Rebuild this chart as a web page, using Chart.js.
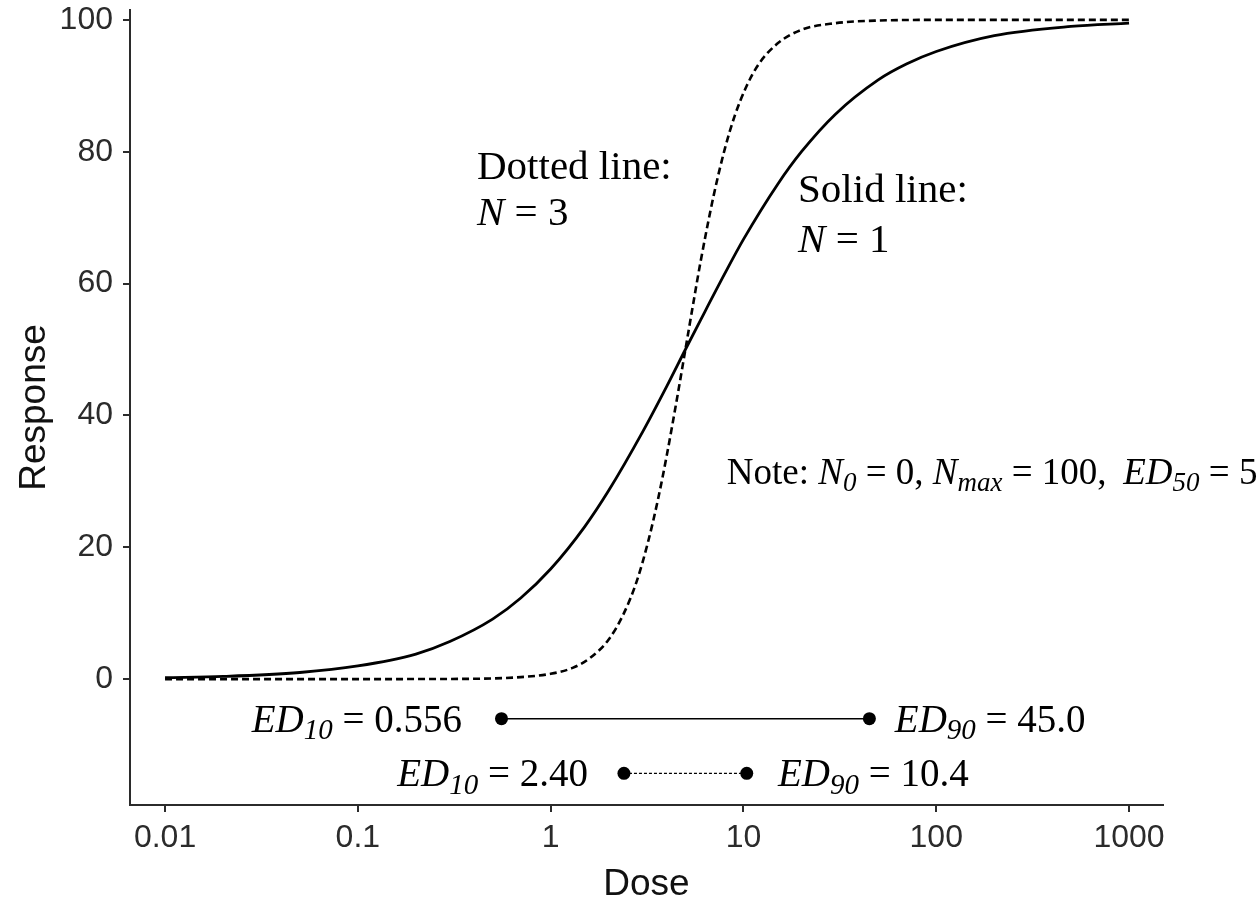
<!DOCTYPE html>
<html>
<head>
<meta charset="utf-8">
<title>Dose response</title>
<script src="https://cdn.jsdelivr.net/npm/chart.js@4.4.0/dist/chart.umd.min.js"></script>
<style>
  html, body { margin: 0; padding: 0; background: #fff; }
  #wrap { width: 1259px; height: 903px; }
</style>
</head>
<body>
<div id="wrap"><canvas id="doseChart" width="1259" height="903"></canvas></div>
<script>
// --- Data ---
const doseTicks = [0.01, 0.1, 1, 10, 100, 1000];
const doseTickLabels = ["0.01", "0.1", "1", "10", "100", "1000"];
const responseTicks = [0, 20, 40, 60, 80, 100];

// N = 1 curve (solid)
const solidDose = [0.01, 0.02, 0.05, 0.1, 0.2, 0.3, 0.5, 0.7, 1, 1.5, 2, 3, 4, 5, 6, 8, 10, 15, 20, 30, 50, 70, 100, 200, 500, 1000];
const solidResp = [0.2, 0.4, 1.0, 2.0, 3.8, 5.7, 9.1, 12.3, 16.7, 23.1, 28.6, 37.5, 44.4, 50.0, 54.5, 61.5, 66.7, 75.0, 80.0, 85.7, 90.9, 93.3, 95.2, 97.6, 99.0, 99.5];

// N = 3 curve (dashed)
const dashDose = [0.01, 0.1, 0.3, 0.5, 0.7, 1, 1.3, 1.6, 2, 2.4, 2.8, 3.2, 3.6, 4, 4.5, 5, 5.5, 6, 7, 8, 9, 10.4, 12, 15, 20, 30, 50, 100, 1000];
const dashResp = [0, 0, 0.02, 0.1, 0.3, 0.8, 1.7, 3.2, 6.0, 10.0, 14.9, 20.8, 27.2, 33.9, 42.2, 50.0, 57.1, 63.4, 73.3, 80.4, 85.4, 90.0, 93.3, 96.4, 98.5, 99.5, 99.9, 100, 100];

// ED10 / ED90 for each curve, drawn as a row under the curves
const edSolid = [0.556, 45.0];
const edDotted = [2.40, 10.4];
const edRowY = [-6, -14.3];
const edSolidLabels = ["0.556", "45.0"];
const edDottedLabels = ["2.40", "10.4"];

const SANS = '"Liberation Sans", Arial, sans-serif';
const SERIF = '"Liberation Serif", "Times New Roman", serif';
const AXIS_COLOR = "#2b2b2b";

const toPoints = (xs, ys) => xs.map((x, i) => ({ x: x, y: ys[i] }));

// --- Rich text (italic / subscript runs) ---
function drawRuns(ctx, runs, x, y, align, size) {
  const subSize = Math.round(size * 0.74);
  const parts = runs.map(([text, italic, sub]) => {
    const font = (italic ? "italic " : "") + (sub ? subSize : size) + "px " + SERIF;
    ctx.font = font;
    return { text, font, w: ctx.measureText(text).width, dy: sub ? size * 0.19 : 0 };
  });
  const total = parts.reduce((s, p) => s + p.w, 0);
  let cx = align === "right" ? x - total : x;
  ctx.textAlign = "left";
  ctx.textBaseline = "alphabetic";
  parts.forEach(p => {
    ctx.font = p.font;
    ctx.fillText(p.text, cx, y + p.dy);
    cx += p.w;
  });
}

const annotations = {
  id: "annotations",
  afterDatasetsDraw(chart) {
    const { ctx } = chart;
    const xs = chart.scales.x, ys = chart.scales.y;
    const px = v => xs.getPixelForValue(v);
    const py = v => ys.getPixelForValue(v);
    ctx.save();
    ctx.fillStyle = "#000";

    drawRuns(ctx, [["Dotted line:", false, false]], px(0.415), py(75.9), "left", 41);
    drawRuns(ctx, [["N", true, false], [" = 3", false, false]], px(0.415), py(68.9), "left", 41);
    drawRuns(ctx, [["Solid line:", false, false]], px(19.2), py(72.4), "left", 41);
    drawRuns(ctx, [["N", true, false], [" = 1", false, false]], px(19.2), py(64.8), "left", 41);

    drawRuns(ctx, [
      ["Note: ", false, false], ["N", true, false], ["0", true, true], [" = 0, ", false, false],
      ["N", true, false], ["max", true, true], [" = 100,\u2009 ", false, false],
      ["ED", true, false], ["50", true, true], [" = 5", false, false]
    ], px(8.2), py(29.6), "left", 37);

    // ED labels sit beside the row markers
    const rowBase = r => py(edRowY[r]) + 13;
    drawRuns(ctx, [["ED", true, false], ["10", true, true], [" = " + edSolidLabels[0], false, false]], px(0.347), rowBase(0), "right", 39);
    drawRuns(ctx, [["ED", true, false], ["90", true, true], [" = " + edSolidLabels[1], false, false]], px(61), rowBase(0), "left", 39);
    drawRuns(ctx, [["ED", true, false], ["10", true, true], [" = " + edDottedLabels[0], false, false]], px(1.56), rowBase(1), "right", 39);
    drawRuns(ctx, [["ED", true, false], ["90", true, true], [" = " + edDottedLabels[1], false, false]], px(15.1), rowBase(1), "left", 39);
    ctx.restore();
  }
};

// --- Chart.js Setup ---
const ctx = document.getElementById("doseChart").getContext("2d");
const doseChart = new Chart(ctx, {
  type: "line",
  data: {
    datasets: [
      {
        label: "N = 1",
        data: toPoints(solidDose, solidResp),
        borderColor: "#000",
        borderWidth: 2.8,
        pointRadius: 0,
        cubicInterpolationMode: "monotone"
      },
      {
        label: "N = 3",
        data: toPoints(dashDose, dashResp),
        borderColor: "#000",
        borderWidth: 2.6,
        borderDash: [7, 4],
        pointRadius: 0,
        cubicInterpolationMode: "monotone"
      },
      {
        label: "ED solid",
        data: toPoints(edSolid, [edRowY[0], edRowY[0]]),
        borderColor: "#000",
        borderWidth: 1.5,
        pointRadius: 6.5,
        pointBackgroundColor: "#000",
        pointBorderWidth: 0
      },
      {
        label: "ED dotted",
        data: toPoints(edDotted, [edRowY[1], edRowY[1]]),
        borderColor: "#000",
        borderWidth: 1.2,
        borderDash: [3, 2],
        pointRadius: 6.5,
        pointBackgroundColor: "#000",
        pointBorderWidth: 0
      }
    ]
  },
  options: {
    responsive: false,
    animation: false,
    devicePixelRatio: 1,
    layout: { padding: { top: 10, right: 96, left: 0, bottom: 0 } },
    plugins: {
      legend: { display: false },
      tooltip: { enabled: false }
    },
    scales: {
      x: {
        type: "logarithmic",
        min: 0.00658,
        max: 1500,
        afterBuildTicks: s => { s.ticks = doseTicks.map(v => ({ value: v })); },
        afterFit: s => { s.height = 98; s.paddingLeft = 0; s.paddingRight = 0; },
        ticks: {
          autoSkip: false,
          maxRotation: 0,
          padding: 7,
          color: AXIS_COLOR,
          font: { family: SANS, size: 32 },
          callback: (v) => doseTickLabels[doseTicks.indexOf(v)] ?? ""
        },
        grid: { drawOnChartArea: false, drawTicks: true, tickLength: 7, color: AXIS_COLOR, lineWidth: 2 },
        border: { display: true, color: AXIS_COLOR, width: 2 },
        title: {
          display: true,
          text: "Dose",
          color: "#111",
          font: { family: SANS, size: 37, lineHeight: 1 },
          padding: { top: 0, bottom: 0 }
        }
      },
      y: {
        type: "linear",
        min: -19.1,
        max: 101.5,
        afterBuildTicks: s => { s.ticks = responseTicks.map(v => ({ value: v })); },
        afterFit: s => { s.width = 130; s.paddingTop = 0; s.paddingBottom = 0; },
        ticks: {
          padding: 10,
          color: AXIS_COLOR,
          font: { family: SANS, size: 32 },
          callback: v => String(v)
        },
        grid: { drawOnChartArea: false, drawTicks: true, tickLength: 7, color: AXIS_COLOR, lineWidth: 2 },
        border: { display: true, color: AXIS_COLOR, width: 2 },
        title: {
          display: true,
          text: "Response",
          color: "#111",
          font: { family: SANS, size: 37, lineHeight: 1.2 },
          padding: { top: 13, bottom: 0 }
        }
      }
    }
  },
  plugins: [annotations]
});
</script>
</body>
</html>
